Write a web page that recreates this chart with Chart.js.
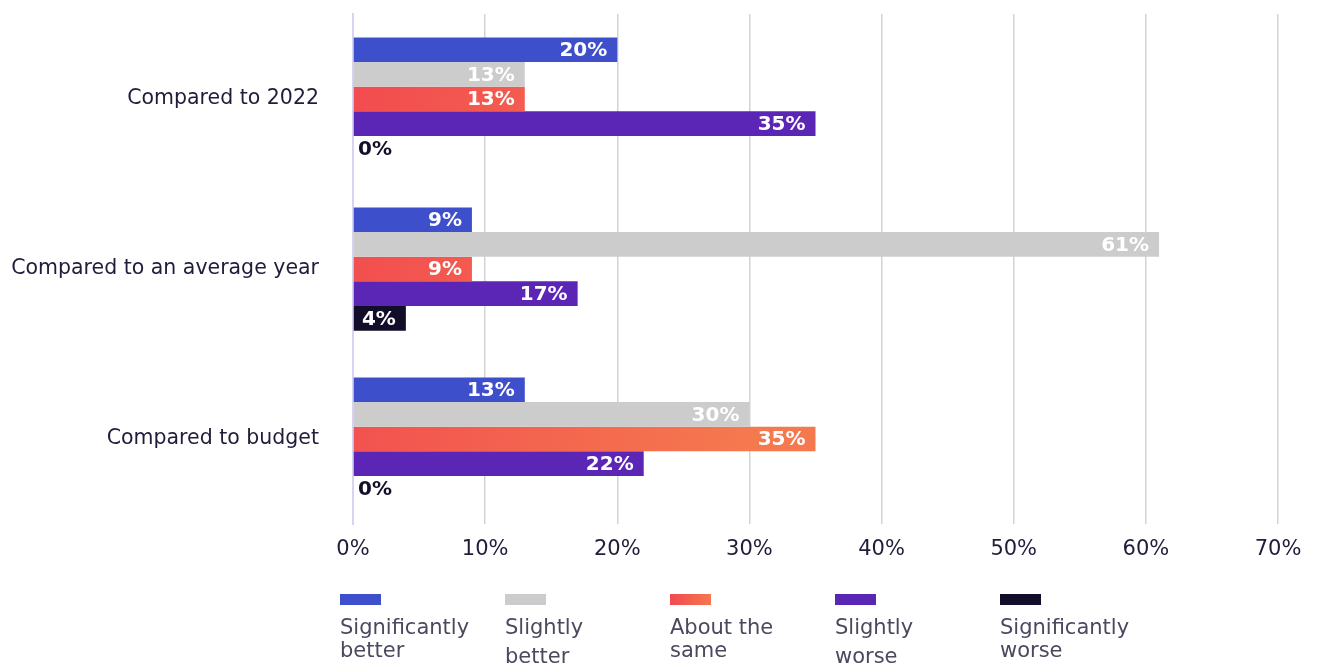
<!DOCTYPE html>
<html>
<head>
<meta charset="utf-8">
<script src="https://cdn.jsdelivr.net/npm/chart.js@4/dist/chart.umd.min.js"></script>
<style>
  html, body { margin: 0; padding: 0; background: #fff; overflow: hidden; }
  #wrap { position: relative; width: 1317px; height: 664px; }
  #chartBox { position: absolute; left: 0; top: 0; width: 1317px; height: 580px; }
  #legend { position: absolute; left: 0; top: 0; width: 1317px; height: 664px; pointer-events: none; }
  .item { position: absolute; top: 594px; width: 160px; font-family: "DejaVu Sans", sans-serif; font-size: 21px; color: #4b495e; line-height: 23px; white-space: nowrap; }
  .swatch { width: 41px; height: 11px; margin-bottom: 11px; }
</style>
</head>
<body>
<div id="wrap">
  <div id="chartBox"><canvas id="c"></canvas></div>
  <div id="legend"></div>
</div>
<script>
// Rows of the chart
const categories = ["Compared to 2022", "Compared to an average year", "Compared to budget"];

// Share of answers per response option (%)
const significantlyBetter = [20, 9, 13];
const slightlyBetter = [13, 61, 30];
const aboutTheSame = [13, 9, 35];
const slightlyWorse = [35, 17, 22];
const significantlyWorse = [0, 4, 0];

const seriesNames = ["Significantly better", "Slightly better", "About the same", "Slightly worse", "Significantly worse"];
const legendLines = [["Significantly", "better"], ["Slightly", "better"], ["About the", "same"], ["Slightly", "worse"], ["Significantly", "worse"]];
const xTicks = [0, 10, 20, 30, 40, 50, 60, 70];

const FONT = '"DejaVu Sans", sans-serif';
const TEXT_DARK = '#1f1d3a';

// Red-to-orange fill running along each bar
function warmGradient(ctx) {
  const chart = ctx.chart;
  const area = chart.chartArea;
  if (!area) return '#f4604f';
  const x = chart.scales.x;
  const g = chart.ctx.createLinearGradient(x.getPixelForValue(0), area.top, x.getPixelForValue(35), area.top + 90);
  g.addColorStop(0, '#f24a50');
  g.addColorStop(1, '#f5794e');
  return g;
}

const colors = ['#3d4fca', '#cccccc', warmGradient, '#5b25b5', '#120e2a'];
const values = [significantlyBetter, slightlyBetter, aboutTheSame, slightlyWorse, significantlyWorse];

// Percentage labels at the end of each bar
const barLabels = {
  id: 'barLabels',
  afterDatasetsDraw(chart) {
    const ctx = chart.ctx;
    ctx.save();
    ctx.font = 'bold 20px ' + FONT;
    ctx.textBaseline = 'middle';
    chart.data.datasets.forEach((ds, di) => {
      const meta = chart.getDatasetMeta(di);
      meta.data.forEach((bar, i) => {
        const v = ds.data[i];
        const text = v + '%';
        if (v === 0) {
          ctx.fillStyle = '#120e2a';
          ctx.textAlign = 'left';
          ctx.fillText(text, bar.base + 5, bar.y + 1);
        } else {
          ctx.fillStyle = '#ffffff';
          ctx.textAlign = 'right';
          ctx.fillText(text, bar.x - 10, bar.y + 1);
        }
      });
    });
    ctx.restore();
  }
};

new Chart(document.getElementById('c'), {
  type: 'bar',
  data: {
    labels: categories,
    datasets: seriesNames.map((name, k) => ({
      label: name,
      data: values[k],
      backgroundColor: colors[k],
      borderWidth: 0,
      categoryPercentage: 0.725,
      barPercentage: 1.0
    }))
  },
  options: {
    indexAxis: 'y',
    responsive: true,
    maintainAspectRatio: false,
    animation: false,
    layout: { padding: { top: 14, right: 39, left: 0, bottom: 0 } },
    plugins: { legend: { display: false }, tooltip: { enabled: false } },
    scales: {
      x: {
        min: 0, max: 70,
        afterBuildTicks(scale) { scale.ticks = xTicks.map(v => ({ value: v })); },
        afterFit(scale) { scale.height = 56; scale.paddingLeft = 0; scale.paddingRight = 0; },
        grid: { color: '#d3d3d3', lineWidth: 1.5, drawTicks: false },
        border: { display: false },
        ticks: {
          padding: 13,
          color: TEXT_DARK,
          font: { family: FONT, size: 21 },
          callback: v => v + '%'
        }
      },
      y: {
        afterFit(scale) { scale.width = 353; scale.paddingTop = 0; scale.paddingBottom = 0; },
        grid: { display: false },
        border: { display: true, color: '#d6d4f2', width: 2 },
        ticks: {
          padding: 26,
          color: TEXT_DARK,
          font: { family: FONT, size: 20.5 }
        }
      }
    }
  },
  plugins: [barLabels]
});

// Legend under the chart
const legend = document.getElementById('legend');
const swatchCss = ['#3d4fca', '#cccccc', 'linear-gradient(90deg,#f24a50,#f5774e)', '#5b25b5', '#120e2a'];
const secondLineGap = [0, 6, 0, 6, 0];
seriesNames.forEach((name, k) => {
  const item = document.createElement('div');
  item.className = 'item';
  item.style.left = (340 + 165 * k) + 'px';
  const sw = document.createElement('div');
  sw.className = 'swatch';
  sw.style.background = swatchCss[k];
  item.appendChild(sw);
  legendLines[k].forEach((line, j) => {
    const d = document.createElement('div');
    d.textContent = line;
    if (j === 1) d.style.marginTop = secondLineGap[k] + 'px';
    item.appendChild(d);
  });
  legend.appendChild(item);
});
</script>
</body>
</html>
